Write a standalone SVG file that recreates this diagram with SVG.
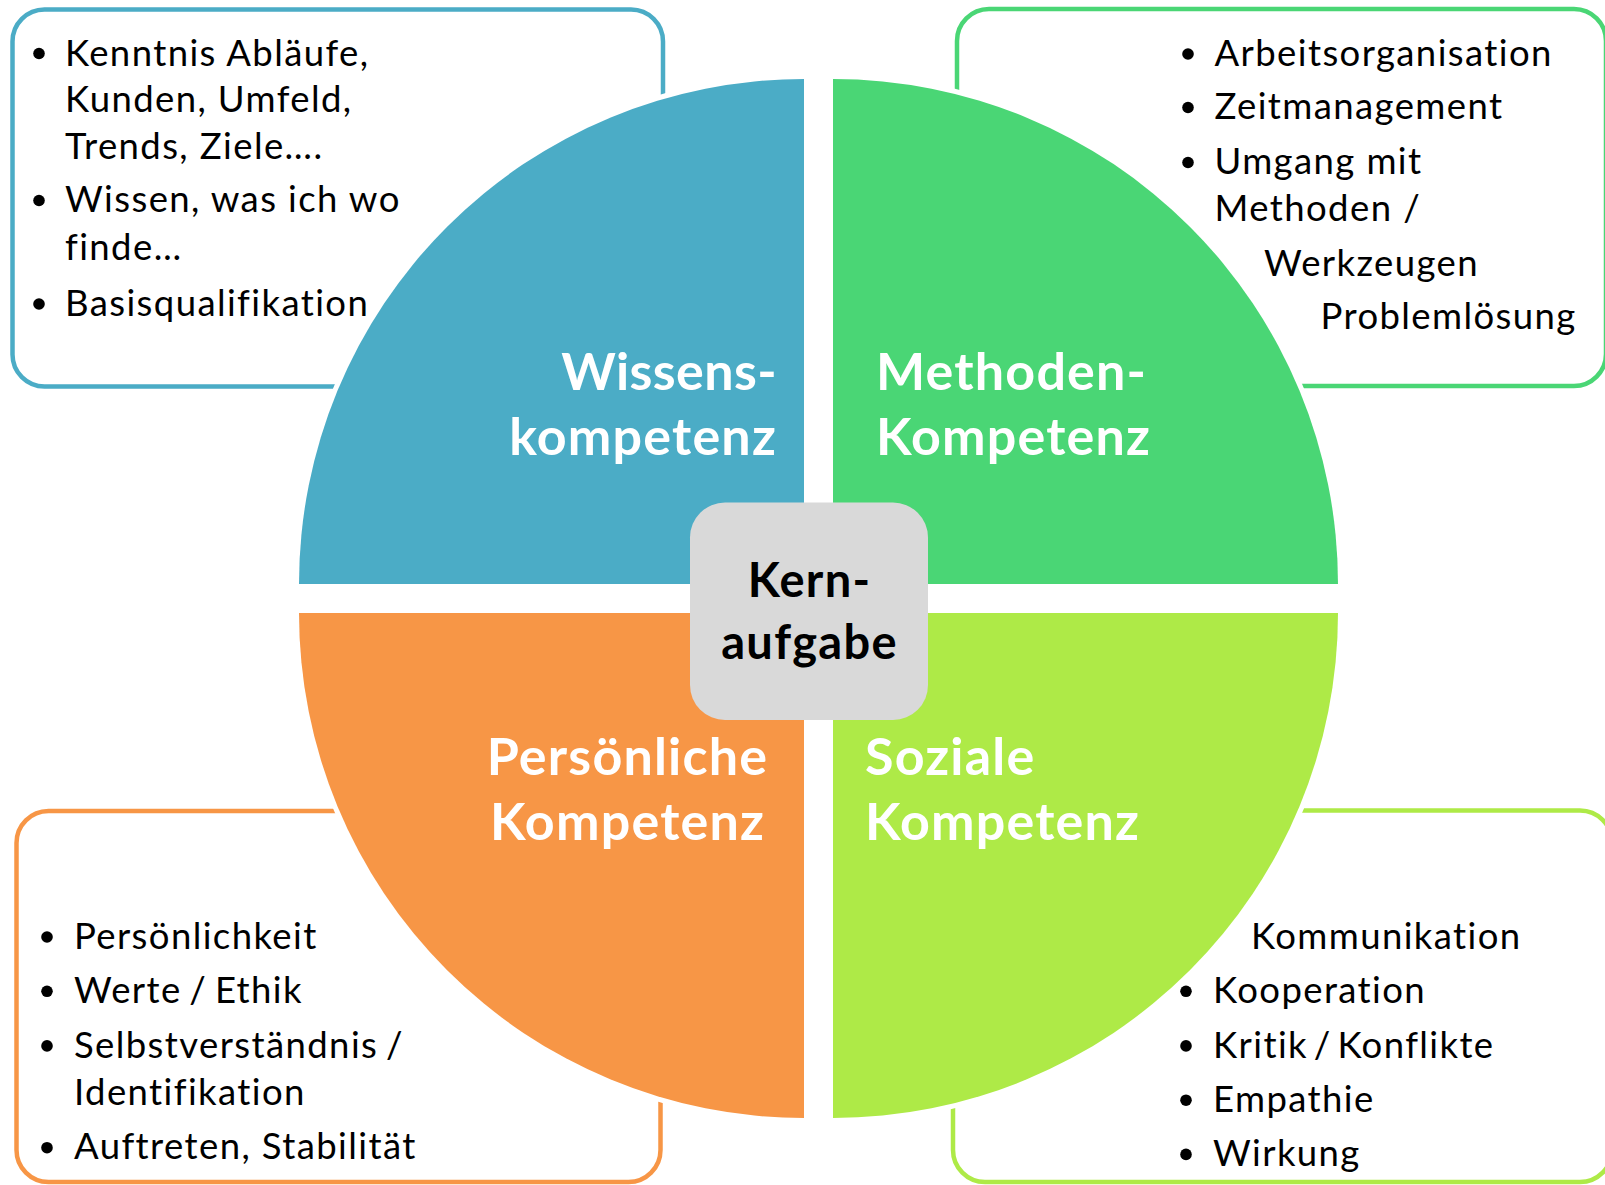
<svg xmlns="http://www.w3.org/2000/svg" width="1605" height="1185" viewBox="0 0 1605 1185">
<style>
.box{fill:#fff;stroke-width:4.5}
.halo{fill:none;stroke:#fff;stroke-width:10}
.body{font-family:Lato,"Liberation Sans",sans-serif;font-size:36.5px;letter-spacing:1.4px;fill:#000}
.tight{word-spacing:-3px}
.lbl{font-family:Lato,"Liberation Sans",sans-serif;font-weight:bold;font-size:52px;letter-spacing:1.2px;fill:#fff}
.kern{font-family:Lato,"Liberation Sans",sans-serif;font-weight:bold;font-size:47px;letter-spacing:1.3px;fill:#000}
.dot{fill:#000}
</style>
<rect width="1605" height="1185" fill="#fff"/>
<g id="box-wissen">
<rect class="box" x="12.5" y="9.5" width="650.5" height="377" rx="32" stroke="#4BACC6"/>
</g>
<g id="box-methoden">
<rect class="box" x="957" y="9" width="649" height="377" rx="32" stroke="#4AD675"/>
</g>
<g id="box-persoenlich">
<rect class="box" x="16.5" y="811" width="644" height="371" rx="32" stroke="#F79646"/>
</g>
<g id="box-sozial">
<rect class="box" x="953" y="810.5" width="659" height="371.5" rx="32" stroke="#AEEA47"/>
</g>
<g id="quad-wissen">
<path class="halo" d="M299,584 A505,505 0 0 1 804,79"/>
<path d="M804,584 L299,584 A505,505 0 0 1 804,79 Z" fill="#4BACC6"/>
<text class="lbl" text-anchor="end" x="777" y="390" style="letter-spacing:0.4px">Wissens-</text>
<text class="lbl" text-anchor="end" x="777" y="455">kompetenz</text>
</g>
<g id="quad-methoden">
<path class="halo" d="M833,79 A505,505 0 0 1 1338,584"/>
<path d="M833,584 L833,79 A505,505 0 0 1 1338,584 Z" fill="#4AD675"/>
<text class="lbl" x="876" y="390">Methoden-</text>
<text class="lbl" x="876" y="455">Kompetenz</text>
</g>
<g id="quad-persoenlich">
<path class="halo" d="M804,1118 A505,505 0 0 1 299,613"/>
<path d="M804,613 L804,1118 A505,505 0 0 1 299,613 Z" fill="#F79646"/>
<text class="lbl" text-anchor="middle" x="627.5" y="775">Persönliche</text>
<text class="lbl" text-anchor="middle" x="627.5" y="840">Kompetenz</text>
</g>
<g id="quad-sozial">
<path class="halo" d="M1338,613 A505,505 0 0 1 833,1118"/>
<path d="M833,613 L1338,613 A505,505 0 0 1 833,1118 Z" fill="#AEEA47"/>
<text class="lbl" x="865" y="775">Soziale</text>
<text class="lbl" x="865" y="840">Kompetenz</text>
</g>
<g id="kern">
<rect x="690" y="502.5" width="238" height="217.5" rx="35" fill="#D9D9D9"/>
<text class="kern" text-anchor="middle" x="809.5" y="597">Kern-</text>
<text class="kern" text-anchor="middle" x="809.5" y="659">aufgabe</text>
</g>
<g id="text-wissen">
<circle class="dot" cx="39" cy="53.5" r="5.8"/>
<circle class="dot" cx="39" cy="200.5" r="5.8"/>
<circle class="dot" cx="39" cy="304" r="5.8"/>
<text class="body" x="65" y="65.5">Kenntnis Abläufe,</text>
<text class="body" x="65" y="111.7">Kunden, Umfeld,</text>
<text class="body" x="65" y="158.5">Trends, Ziele….</text>
<text class="body" x="65" y="212.4">Wissen, was ich wo</text>
<text class="body" x="65" y="260.2">finde…</text>
<text class="body" x="65" y="315.7">Basisqualifikation</text>
</g>
<g id="text-methoden">
<circle class="dot" cx="1188" cy="54" r="5.8"/>
<circle class="dot" cx="1188" cy="107.5" r="5.8"/>
<circle class="dot" cx="1188" cy="162.5" r="5.8"/>
<text class="body" x="1214.5" y="65.8">Arbeitsorganisation</text>
<text class="body" x="1214.5" y="119.4">Zeitmanagement</text>
<text class="body" x="1214.5" y="174.1">Umgang mit</text>
<text class="body" x="1214.5" y="221.2">Methoden /</text>
<text class="body" x="1264" y="275.5">Werkzeugen</text>
<text class="body" x="1320.5" y="329">Problemlösung</text>
</g>
<g id="text-persoenlich">
<circle class="dot" cx="47" cy="937" r="5.8"/>
<circle class="dot" cx="47" cy="991.3" r="5.8"/>
<circle class="dot" cx="47" cy="1045.9" r="5.8"/>
<circle class="dot" cx="47" cy="1147.7" r="5.8"/>
<text class="body" x="74" y="948.6">Persönlichkeit</text>
<text class="body tight" x="74" y="1002.9">Werte / Ethik</text>
<text class="body tight" x="74" y="1057.5">Selbstverständnis /</text>
<text class="body" x="74" y="1105.4">Identifikation</text>
<text class="body" x="74" y="1159.3">Auftreten, Stabilität</text>
</g>
<g id="text-sozial">
<circle class="dot" cx="1186" cy="991.3" r="5.8"/>
<circle class="dot" cx="1186" cy="1045.9" r="5.8"/>
<circle class="dot" cx="1186" cy="1100.2" r="5.8"/>
<circle class="dot" cx="1186" cy="1154.4" r="5.8"/>
<text class="body" x="1251" y="948.6">Kommunikation</text>
<text class="body" x="1213" y="1002.9">Kooperation</text>
<text class="body" x="1213" y="1057.5" style="word-spacing:-5px">Kritik / Konflikte</text>
<text class="body" x="1213" y="1111.8">Empathie</text>
<text class="body" x="1213" y="1166">Wirkung</text>
</g>
</svg>
